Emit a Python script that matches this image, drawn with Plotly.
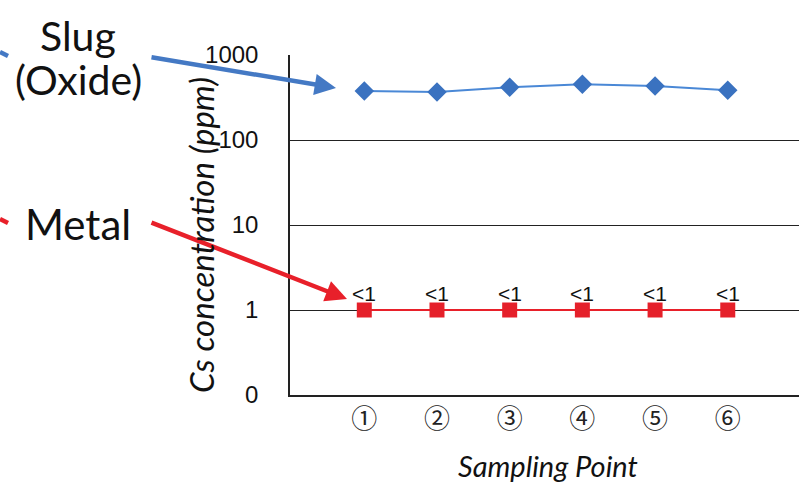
import math
import plotly.graph_objects as go

# ---- data ----
sampling_points = [1, 2, 3, 4, 5, 6]
point_labels = ["①", "②", "③", "④", "⑤", "⑥"]
slug_oxide_ppm = [377, 367, 417, 452, 432, 384]
metal_ppm = [1, 1, 1, 1, 1, 1]
metal_text = ["<1", "<1", "<1", "<1", "<1", "<1"]
y_tick_vals = [0.1, 1, 10, 100, 1000]
y_tick_text = ["0", "1", "10", "100", "1000"]

W, H = 799, 482
L, R, T, B = 290, 0, 55, 87
PW = W - L - R
PH = H - T - B


def xp(px):
    return (px - L) / PW


def yp(py):
    return (H - B - py) / PH


fig = go.Figure()

fig.add_trace(go.Scatter(
    x=sampling_points, y=slug_oxide_ppm, mode="lines+markers",
    line=dict(color="#4a88d6", width=2),
    marker=dict(symbol="diamond", size=15, color="#3a72c0"),
    showlegend=False, cliponaxis=False,
))
fig.add_trace(go.Scatter(
    x=sampling_points, y=metal_ppm, mode="lines+markers",
    line=dict(color="#e8202a", width=2),
    marker=dict(symbol="square", size=15, color="#e5202a"),
    showlegend=False, cliponaxis=False,
))

font_label = "Lato, Calibri, sans-serif"
annotations = [
    dict(text=t, x=xv, y=math.log10(yv), xref="x", yref="y", showarrow=False,
         yshift=17, xanchor="center", yanchor="middle",
         font=dict(family="Liberation Sans, Arial", size=21, color="#111"))
    for xv, yv, t in zip(sampling_points, metal_ppm, metal_text)
]
annotations += [
    dict(text="Slug", x=xp(78), y=yp(36), xref="paper", yref="paper",
         showarrow=False, font=dict(family=font_label, size=41, color="#111"),
         xanchor="center", yanchor="middle"),
    dict(text="(Oxide)", x=xp(78), y=yp(80), xref="paper", yref="paper",
         showarrow=False, font=dict(family=font_label, size=41, color="#111"),
         xanchor="center", yanchor="middle"),
    dict(text="Metal", x=xp(78), y=yp(224), xref="paper", yref="paper",
         showarrow=False, font=dict(family=font_label, size=42, color="#111"),
         xanchor="center", yanchor="middle"),
    # arrows
    dict(text="", x=xp(336), y=yp(88), xref="paper", yref="paper",
         ax=150 - 336, ay=57 - 88, axref="pixel", ayref="pixel",
         showarrow=True, arrowhead=2, arrowsize=0.95, arrowwidth=4.5,
         arrowcolor="#4479c4", standoff=0),
    dict(text="", x=xp(347), y=yp(299), xref="paper", yref="paper",
         ax=150 - 347, ay=222 - 299, axref="pixel", ayref="pixel",
         showarrow=True, arrowhead=2, arrowsize=0.95, arrowwidth=4.5,
         arrowcolor="#e8202a", standoff=0),
    # axis titles
    dict(text="<i>Cs concentration (ppm)</i>", x=xp(201), y=yp(235),
         xref="paper", yref="paper", showarrow=False, textangle=-90,
         font=dict(family=font_label, size=33, color="#111"),
         xanchor="center", yanchor="middle"),
    dict(text="<i>Sampling Point</i>", x=xp(548), y=yp(465),
         xref="paper", yref="paper", showarrow=False,
         font=dict(family=font_label, size=29, color="#111"),
         xanchor="center", yanchor="middle"),
]

shapes = [
    dict(type="line", xref="paper", yref="paper", x0=xp(0), y0=yp(52),
         x1=xp(8), y1=yp(56), line=dict(color="#4479c4", width=4.5)),
    dict(type="line", xref="paper", yref="paper", x0=xp(0), y0=yp(219),
         x1=xp(8), y1=yp(223), line=dict(color="#e8202a", width=4.5)),
]

fig.update_layout(
    width=W, height=H,
    margin=dict(l=L, r=R, t=T, b=B, pad=0),
    paper_bgcolor="white", plot_bgcolor="white",
    annotations=annotations, shapes=shapes,
    xaxis=dict(
        range=[-0.022, 6.98], tickvals=sampling_points, ticktext=point_labels,
        showgrid=False, zeroline=False, showline=True, linecolor="#222",
        linewidth=1.5, ticks="", ticklabelstandoff=0,
        tickfont=dict(family="Noto Sans CJK JP", size=26, color="#222"),
    ),
    yaxis=dict(
        type="log", range=[-1, 3], tickvals=y_tick_vals, ticktext=y_tick_text,
        showgrid=True, gridcolor="#222", gridwidth=1.3,
        showline=True, linecolor="#222", linewidth=1.5, ticks="",
        ticklabelstandoff=25, zeroline=False,
        tickfont=dict(family="Liberation Sans, Arial", size=24, color="#111"),
    ),
)

fig.write_html("out.html", config={"displayModeBar": False},
               post_script="document.body.style.margin='0';")
